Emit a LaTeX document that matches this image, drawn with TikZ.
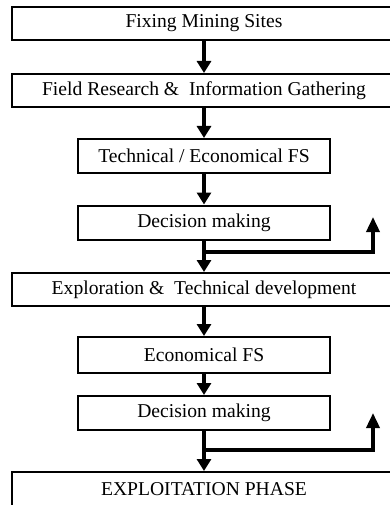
\documentclass[tikz,border=0pt]{standalone}
\usepackage{fontspec}
\setmainfont{Liberation Serif}
\usetikzlibrary{arrows.meta}
\tikzset{
  fs diagram/.style={x=1pt, y=-1pt, font=\fontsize{19.6}{22}\selectfont},
  fs box/.style={draw, line width=2pt, fill=white, minimum width=252pt,
    minimum height=34pt, inner sep=0pt, align=center},
  fs wide box/.style={fs box, minimum width=400pt, minimum height=33pt},
  fs arrow/.style={-{Triangle[length=12pt,width=14pt]}, line width=4pt},
  fs back/.style={fs arrow, line width=3.5pt, -{Triangle[length=15pt,width=13pt]}}
}
\begin{document}
\begin{tikzpicture}[fs diagram]
\useasboundingbox (0,0) rectangle (390,505);
\clip (0,0) rectangle (390,505);
\node[fs wide box] (fix) at (212,23.5) {\hspace*{-16pt}Fixing Mining Sites};
\node[fs wide box] (field) at (212,90.5) {\hspace*{-16pt}Field Research \&\ \ Information Gathering};
\node[fs box] (tefs) at (204,156) {Technical / Economical FS};
\node[fs box] (dec1) at (204,222.5) {Decision making};
\node[fs wide box] (explo) at (212,289.5) {\hspace*{-16pt}Exploration \&\ \ Technical development};
\node[fs box, minimum height=36pt] (ecfs) at (204,355) {Economical FS};
\node[fs box] (dec2) at (204,413) {Decision making};
\node[fs wide box, minimum height=40pt] (exploit) at (212,492) {\hspace*{-16pt}\raisebox{5pt}{EXPLOITATION PHASE}};
% main flow
\draw[fs arrow] (fix.south -| tefs) -- (field.north -| tefs);
\draw[fs arrow] (field.south -| tefs) -- (tefs);
\draw[fs arrow] (tefs) -- (dec1);
\draw[fs arrow] (dec1) -- (explo.north -| dec1);
\draw[fs arrow] (explo.south -| ecfs) -- (ecfs);
\draw[fs arrow] (ecfs) -- (dec2);
\draw[fs arrow] (dec2) -- (exploit.north -| dec2);
% way back after each decision
\coordinate (split1) at (204,252);
\coordinate (back1) at (373,217);
\coordinate (split2) at (204,450);
\coordinate (back2) at (373,413);
\draw[fs back] (split1) -- (split1 -| back1) -- (back1);
\draw[fs back] (split2) -- (split2 -| back2) -- (back2);
\end{tikzpicture}
\end{document}
